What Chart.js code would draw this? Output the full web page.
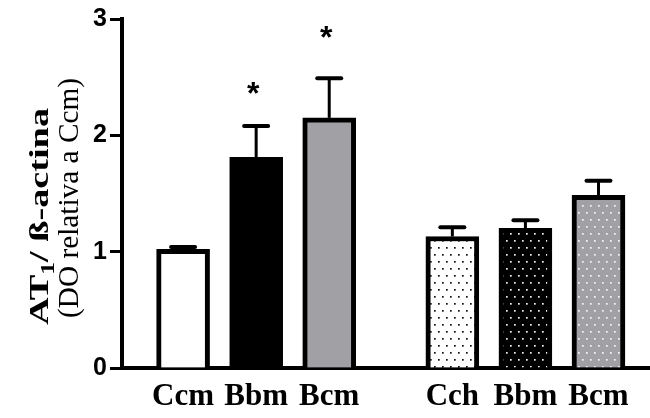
<!DOCTYPE html>
<html lang="es">
<head>
    <meta charset="UTF-8">
    <title>AT1 / ß-actina</title>
    <script src="https://cdn.jsdelivr.net/npm/chart.js"></script>
    <style>
        html, body { margin: 0; padding: 0; background: #fff; }
        canvas { display: block; }
    </style>
</head>
<body>
    <canvas id="chart" width="650" height="418"></canvas>

    <script>
        // data
        const barLabels = ['Ccm', 'Bbm', 'Bcm', 'Cch', 'Bbm', 'Bcm'];
        const barGroup = [0, 0, 0, 1, 1, 1];
        const means = [1.02, 1.81, 2.15, 1.13, 1.20, 1.485];
        const sems = [0.02, 0.27, 0.34, 0.08, 0.07, 0.125];
        const marks = ['', '*', '*', '', '', ''];
        const markLevels = [null, 2.43, 2.91, null, null, null];
        const yTicks = [0, 1, 2, 3];

        const GROUP_GAP = 0.685;
        const positions = barLabels.map((_, i) => i + barGroup[i] * GROUP_GAP);

        const ctx = document.getElementById('chart').getContext('2d');

        function dotted(bg, dot) {
            const c = document.createElement('canvas');
            c.width = 8; c.height = 14;
            const g = c.getContext('2d');
            g.fillStyle = bg;
            g.fillRect(0, 0, 8, 14);
            g.fillStyle = dot;
            g.fillRect(2, 2, 1.7, 1.7);
            g.fillRect(6, 9, 1.7, 1.7);
            return ctx.createPattern(c, 'repeat');
        }

        const GREY = '#a1a1a5';
        const fills = [
            '#ffffff', '#000000', GREY,
            dotted('#ffffff', '#111111'),
            dotted('#000000', '#f0f0f0'),
            dotted(GREY, '#f4f4f4')
        ];

        const errorBars = {
            id: 'errorBars',
            afterDatasetsDraw(chart) {
                const y = chart.scales.y;
                const meta = chart.getDatasetMeta(0);
                const c = chart.ctx;
                c.save();
                c.strokeStyle = '#000';
                c.fillStyle = '#000';
                meta.data.forEach((bar, i) => {
                    const top = y.getPixelForValue(means[i] + sems[i]);
                    const base = y.getPixelForValue(means[i]);
                    c.lineWidth = 3;
                    c.lineCap = 'butt';
                    c.beginPath();
                    c.moveTo(bar.x, base);
                    c.lineTo(bar.x, top);
                    c.stroke();
                    c.lineWidth = 4;
                    c.lineCap = 'round';
                    c.beginPath();
                    c.moveTo(bar.x - 12, top);
                    c.lineTo(bar.x + 12, top);
                    c.stroke();
                    if (marks[i]) {
                        // asterisk centred on its level; glyph centre sits ~0.58em above baseline
                        c.font = 'bold 32px "Liberation Sans"';
                        c.textAlign = 'center';
                        c.textBaseline = 'alphabetic';
                        c.fillText(marks[i], bar.x - 3, y.getPixelForValue(markLevels[i]) + 19);
                    }
                });
                c.restore();
            }
        };

        // two-line rotated y title, stretched along the text like the original
        function drawRotated(c, parts, startY, endY, baseX) {
            c.save();
            let w = 0;
            parts.forEach(p => { c.font = p.font; w += c.measureText(p.text).width; });
            const sx = (startY - endY) / w;
            c.translate(baseX, startY);
            c.rotate(-Math.PI / 2);
            c.scale(sx, 1);
            c.fillStyle = '#000';
            c.textBaseline = 'alphabetic';
            c.textAlign = 'left';
            let x = 0;
            parts.forEach(p => {
                c.font = p.font;
                c.fillText(p.text, x, p.shift || 0);
                x += c.measureText(p.text).width;
            });
            c.restore();
        }

        const yTitle = {
            id: 'yTitle',
            afterDraw(chart) {
                const c = chart.ctx;
                drawRotated(c, [
                    { text: 'AT', font: 'bold 27px "Liberation Serif"' },
                    { text: '1', font: 'bold 18px "Liberation Serif"', shift: 6 },
                    { text: '/ ß-actina', font: 'bold 27px "Liberation Serif"' }
                ], 325, 108, 48);
                drawRotated(c, [
                    { text: '(DO relativa a Ccm)', font: '29px "Liberation Serif"' }
                ], 318, 78, 78);
            }
        };

        const chart = new Chart(ctx, {
            type: 'bar',
            data: {
                datasets: [{
                    data: positions.map((p, i) => ({ x: p, y: means[i] })),
                    backgroundColor: fills,
                    borderColor: '#000',
                    borderWidth: 5,
                    borderSkipped: 'bottom',
                    barThickness: 53
                }]
            },
            options: {
                responsive: false,
                animation: false,
                layout: { padding: { top: 19, right: 0, left: 0, bottom: 0 } },
                plugins: { legend: { display: false }, tooltip: { enabled: false } },
                scales: {
                    x: {
                        type: 'linear',
                        offset: false,
                        min: -0.836,
                        max: 6.39,
                        afterBuildTicks: axis => { axis.ticks = positions.map(v => ({ value: v })); },
                        afterFit: axis => { axis.height = 50; },
                        ticks: {
                            autoSkip: false,
                            maxRotation: 0,
                            padding: 10,
                            color: '#000',
                            font: { family: '"Liberation Serif"', size: 31, weight: 'bold' },
                            callback: (v, i) => barLabels[i]
                        },
                        grid: { display: true, drawOnChartArea: false, drawTicks: false, color: 'transparent' },
                        border: { display: true, color: '#000', width: 4 }
                    },
                    y: {
                        min: 0,
                        max: 3,
                        afterBuildTicks: axis => { axis.ticks = yTicks.map(v => ({ value: v })); },
                        afterFit: axis => { axis.width = 122; },
                        ticks: {
                            padding: 3,
                            color: '#000',
                            font: { family: '"Liberation Sans"', size: 25, weight: 'bold' }
                        },
                        grid: { drawOnChartArea: false, drawTicks: true, tickLength: 12, tickWidth: 3, color: '#000' },
                        border: { display: true, color: '#000', width: 4 }
                    }
                }
            },
            plugins: [errorBars, yTitle]
        });
    </script>
</body>
</html>
